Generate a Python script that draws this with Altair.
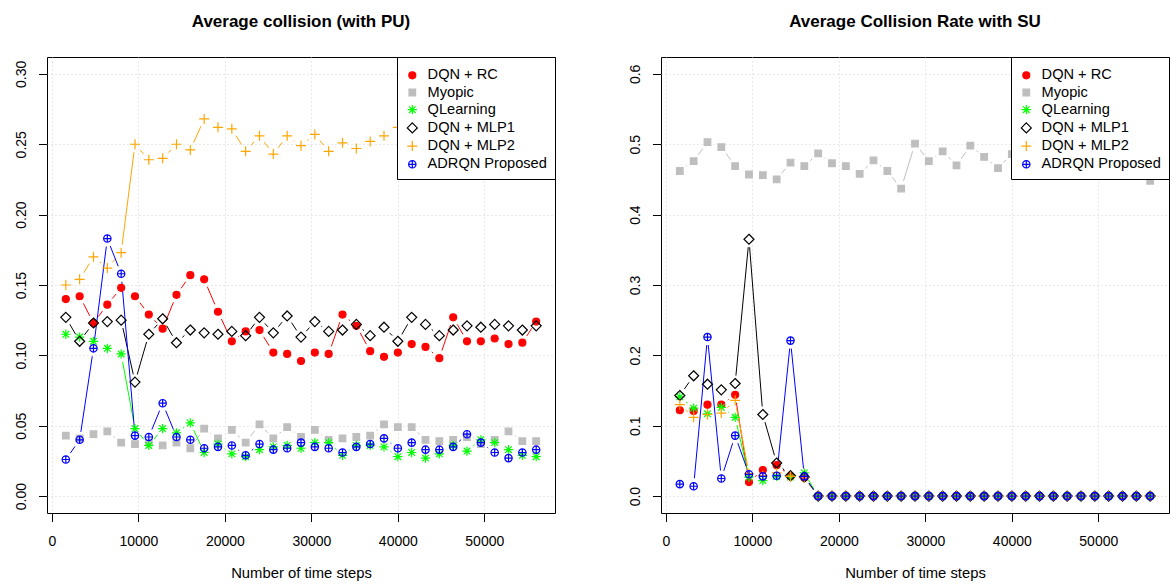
import altair as alt
import pandas as pd

# ---------------- data ----------------
steps = [1600, 3200, 4800, 6400, 8000, 9600, 11200, 12800, 14400, 16000,
         17600, 19200, 20800, 22400, 24000, 25600, 27200, 28800, 30400, 32000,
         33600, 35200, 36800, 38400, 40000, 41600, 43200, 44800, 46400, 48000,
         49600, 51200, 52800, 54400, 56000]

series_names = ["DQN + RC", "Myopic", "QLearning", "DQN + MLP1", "DQN + MLP2", "ADRQN Proposed"]

# Left panel: Average collision (with PU)
pu_rc = [0.140, 0.142, 0.123, 0.136, 0.148, 0.142, 0.129, 0.119, 0.143, 0.157,
         0.154, 0.131, 0.110, 0.117, 0.118, 0.102, 0.101, 0.096, 0.102, 0.101,
         0.129, 0.121, 0.103, 0.099, 0.102, 0.108, 0.106, 0.098, 0.127, 0.110,
         0.110, 0.112, 0.108, 0.109, 0.124]
pu_myopic = [0.043, 0.041, 0.044, 0.046, 0.038, 0.037, 0.038, 0.036, 0.038, 0.034,
             0.048, 0.041, 0.047, 0.038, 0.051, 0.041, 0.049, 0.042, 0.047, 0.040,
             0.041, 0.042, 0.043, 0.051, 0.049, 0.049, 0.040, 0.039, 0.040, 0.042,
             0.037, 0.040, 0.046, 0.039, 0.039]
pu_qlearning = [0.115, 0.113, 0.110, 0.105, 0.101, 0.048, 0.036, 0.048, 0.045, 0.052,
                0.031, 0.037, 0.030, 0.028, 0.033, 0.035, 0.036, 0.034, 0.038, 0.038,
                0.029, 0.036, 0.036, 0.035, 0.028, 0.031, 0.027, 0.030, 0.036, 0.032,
                0.040, 0.038, 0.033, 0.029, 0.028]
pu_mlp1 = [0.127, 0.110, 0.123, 0.124, 0.125, 0.081, 0.115, 0.126, 0.109, 0.118,
           0.116, 0.115, 0.117, 0.114, 0.127, 0.116, 0.128, 0.113, 0.124, 0.117,
           0.118, 0.122, 0.114, 0.120, 0.110, 0.127, 0.122, 0.114, 0.118, 0.121,
           0.120, 0.122, 0.121, 0.118, 0.121]
pu_mlp2 = [0.150, 0.154, 0.170, 0.162, 0.173, 0.250, 0.239, 0.240, 0.250, 0.246,
           0.268, 0.262, 0.261, 0.245, 0.256, 0.243, 0.256, 0.249, 0.257, 0.245,
           0.251, 0.247, 0.252, 0.256, 0.262, 0.258, 0.255, 0.260, 0.262, 0.257,
           0.259, 0.263, 0.256, 0.260, 0.261]
pu_adrqn = [0.026, 0.040, 0.105, 0.183, 0.158, 0.043, 0.042, 0.066, 0.042, 0.040,
            0.034, 0.035, 0.036, 0.029, 0.037, 0.033, 0.034, 0.038, 0.035, 0.034,
            0.031, 0.035, 0.037, 0.041, 0.034, 0.038, 0.033, 0.033, 0.035, 0.044,
            0.038, 0.031, 0.027, 0.031, 0.033]

# Right panel: Average Collision Rate with SU
su_rc = [0.122, 0.121, 0.130, 0.130, 0.144, 0.020, 0.037, 0.044, 0.028, 0.026,
         0.0, 0.0, 0.0, 0.0, 0.0, 0.0, 0.0, 0.0, 0.0, 0.0,
         0.0, 0.0, 0.0, 0.0, 0.0, 0.0, 0.0, 0.0, 0.0, 0.0,
         0.0, 0.0, 0.0, 0.0, 0.0]
su_myopic = [0.462, 0.476, 0.503, 0.496, 0.469, 0.457, 0.456, 0.450, 0.474, 0.469,
             0.487, 0.473, 0.469, 0.458, 0.477, 0.462, 0.437, 0.501, 0.476, 0.490,
             0.470, 0.498, 0.482, 0.466, 0.486, 0.474, 0.480, 0.468, 0.485, 0.472,
             0.478, 0.466, 0.481, 0.470, 0.448]
su_qlearning = [0.141, 0.125, 0.117, 0.126, 0.112, 0.027, 0.022, 0.028, 0.027, 0.033,
                0.0, 0.0, 0.0, 0.0, 0.0, 0.0, 0.0, 0.0, 0.0, 0.0,
                0.0, 0.0, 0.0, 0.0, 0.0, 0.0, 0.0, 0.0, 0.0, 0.0,
                0.0, 0.0, 0.0, 0.0, 0.0]
su_mlp1 = [0.143, 0.171, 0.159, 0.151, 0.160, 0.365, 0.116, 0.047, 0.029, 0.027,
           0.0, 0.0, 0.0, 0.0, 0.0, 0.0, 0.0, 0.0, 0.0, 0.0,
           0.0, 0.0, 0.0, 0.0, 0.0, 0.0, 0.0, 0.0, 0.0, 0.0,
           0.0, 0.0, 0.0, 0.0, 0.0]
su_mlp2 = [0.130, 0.112, 0.116, 0.118, 0.136, 0.032, 0.029, 0.033, 0.028, 0.026,
           0.0, 0.0, 0.0, 0.0, 0.0, 0.0, 0.0, 0.0, 0.0, 0.0,
           0.0, 0.0, 0.0, 0.0, 0.0, 0.0, 0.0, 0.0, 0.0, 0.0,
           0.0, 0.0, 0.0, 0.0, 0.0]
su_adrqn = [0.017, 0.014, 0.226, 0.025, 0.086, 0.031, 0.028, 0.029, 0.221, 0.028,
            0.0, 0.0, 0.0, 0.0, 0.0, 0.0, 0.0, 0.0, 0.0, 0.0,
            0.0, 0.0, 0.0, 0.0, 0.0, 0.0, 0.0, 0.0, 0.0, 0.0,
            0.0, 0.0, 0.0, 0.0, 0.0]

x_ticks = [0, 10000, 20000, 30000, 40000, 50000]
pu_ticks = [0.0, 0.05, 0.10, 0.15, 0.20, 0.25, 0.30]
su_ticks = [0.0, 0.1, 0.2, 0.3, 0.4, 0.5, 0.6]

# ---------------- styles ----------------
stroke_colors = ["#FF0000", "#BEBEBE", "#00FF00", "#000000", "#FFA500", "#0000FF"]
fill_colors = ["#FF0000", "#BEBEBE", "transparent", "transparent", "transparent", "transparent"]
shape_paths = [
    "M-0.7,0A0.7,0.7,0,1,1,0.7,0A0.7,0.7,0,1,1,-0.7,0Z",                      # filled circle
    "M-0.66,-0.66L0.66,-0.66L0.66,0.66L-0.66,0.66Z",                             # filled square
    "M-0.93,0L0.93,0M0,-0.93L0,0.93M-0.66,-0.66L0.66,0.66M-0.66,0.66L0.66,-0.66",  # asterisk
    "M0,-1L1,0L0,1L-1,0Z",                                                       # diamond
    "M-1,0L1,0M0,-1L0,1",                                                        # plus
    "M-0.74,0A0.74,0.74,0,1,1,0.74,0A0.74,0.74,0,1,1,-0.74,0ZM-0.74,0L0.74,0M0,-0.74L0,0.74",  # circle plus
]

FONT = "Liberation Sans"
W, H = 508, 456
X_DOM = [-576, 58176]
GAP = 8.0

names_js = "[" + ",".join("'" + n + "'" for n in series_names) + "]"
colors_js = "[" + ",".join("'" + c + "'" for c in stroke_colors) + "]"


def long_df(cols):
    rows = []
    for name, vals in zip(series_names, cols):
        for s, v in zip(steps, vals):
            rows.append({"series": name, "step": s, "value": v})
    return pd.DataFrame(rows)


def panel(df, y_dom, y_ticks, y_fmt, title):
    kx = W / (X_DOM[1] - X_DOM[0])
    ky = H / (y_dom[1] - y_dom[0])
    xs = alt.Scale(domain=X_DOM, nice=False, zero=False)
    ys = alt.Scale(domain=y_dom, nice=False, zero=False)
    x_axis = alt.Axis(values=x_ticks, format="d", title="Number of time steps",
                      grid=True, gridDash=[1, 3], gridColor="#D3D3D3", domain=False,
                      tickColor="black", tickSize=8.5, labelFont=FONT, labelFontSize=14,
                      labelColor="black", labelPadding=13, labelFlush=False,
                      titleFont=FONT, titleFontSize=14.8, titleFontWeight="normal",
                      titleColor="black", titlePadding=17)
    y_axis = alt.Axis(values=y_ticks, format=y_fmt, title=None,
                      grid=True, gridDash=[1, 3], gridColor="#D3D3D3", domain=False,
                      tickColor="black", tickSize=8.5, labelFont=FONT, labelFontSize=14,
                      labelColor="black", labelPadding=10, labelAngle=270,
                      labelAlign="center", labelBaseline="bottom", labelFlush=False,
                      minExtent=40, maxExtent=40)
    base = alt.Chart(df)

    # line segments between consecutive points, shortened at both ends (R type="b")
    segs = (
        base.transform_window(x_next="lead(step)", y_next="lead(value)",
                              groupby=["series"], sort=[alt.SortField("step")])
        .transform_filter("isValid(datum.x_next)")
        .transform_calculate(dxp=f"(datum.x_next - datum.step) * {kx}")
        .transform_calculate(dyp=f"(datum.y_next - datum.value) * {ky}")
        .transform_calculate(L="sqrt(datum.dxp * datum.dxp + datum.dyp * datum.dyp)")
        .transform_filter(f"datum.L > {2 * GAP}")
        .transform_calculate(f=f"{GAP} / datum.L")
        .transform_calculate(xs="datum.step + (datum.x_next - datum.step) * datum.f")
        .transform_calculate(xe="datum.x_next - (datum.x_next - datum.step) * datum.f")
        .transform_calculate(ys="datum.value + (datum.y_next - datum.value) * datum.f")
        .transform_calculate(ye="datum.y_next - (datum.y_next - datum.value) * datum.f")
        .transform_calculate(col=f"{colors_js}[indexof({names_js}, datum.series)]")
        .mark_rule(strokeWidth=1)
        .encode(
            x=alt.X("xs:Q", scale=xs, axis=x_axis),
            x2="xe:Q",
            y=alt.Y("ys:Q", scale=ys, axis=y_axis),
            y2="ye:Q",
            stroke=alt.Stroke("col:N", scale=None),
        )
    )

    leg = alt.Legend(title=" ", titleFontSize=3, titlePadding=0, orient="top-right",
                     offset=0, fillColor="white", strokeColor="black", padding=8,
                     symbolSize=100, symbolStrokeWidth=1.2, labelFont=FONT,
                     labelFontSize=14.6, labelColor="black", rowPadding=2.2,
                     labelOffset=8, cornerRadius=0)
    pts = base.mark_point(opacity=1, strokeWidth=1.2, size=100).encode(
        x=alt.X("step:Q", scale=xs, axis=x_axis),
        y=alt.Y("value:Q", scale=ys, axis=y_axis),
        shape=alt.Shape("series:N", scale=alt.Scale(domain=series_names, range=shape_paths), legend=leg),
        stroke=alt.Stroke("series:N", scale=alt.Scale(domain=series_names, range=stroke_colors), legend=leg),
        fill=alt.Fill("series:N", scale=alt.Scale(domain=series_names, range=fill_colors), legend=leg),
    )
    return alt.layer(segs, pts).properties(
        width=W, height=H,
        title=alt.Title(title, font=FONT, fontSize=17, fontWeight="bold", color="black",
                        anchor="middle", frame="group", offset=26),
    )


left = panel(long_df([pu_rc, pu_myopic, pu_qlearning, pu_mlp1, pu_mlp2, pu_adrqn]),
             [-0.012, 0.312], pu_ticks, ".2f", "Average collision (with PU)")
right = panel(long_df([su_rc, su_myopic, su_qlearning, su_mlp1, su_mlp2, su_adrqn]),
              [-0.024, 0.624], su_ticks, ".1f", "Average Collision Rate with SU")

chart = (
    alt.hconcat(left, right, spacing=64)
    .resolve_scale(stroke="independent", fill="independent", shape="independent",
                   x="independent", y="independent")
    .resolve_legend(stroke="independent", fill="independent", shape="independent")
    .properties(padding={"left": 6, "top": 12, "right": 0, "bottom": 0}, background="white")
    .configure_view(stroke="black", strokeWidth=1)
)

chart.save("out.html", embed_options={"renderer": "svg", "actions": False})
